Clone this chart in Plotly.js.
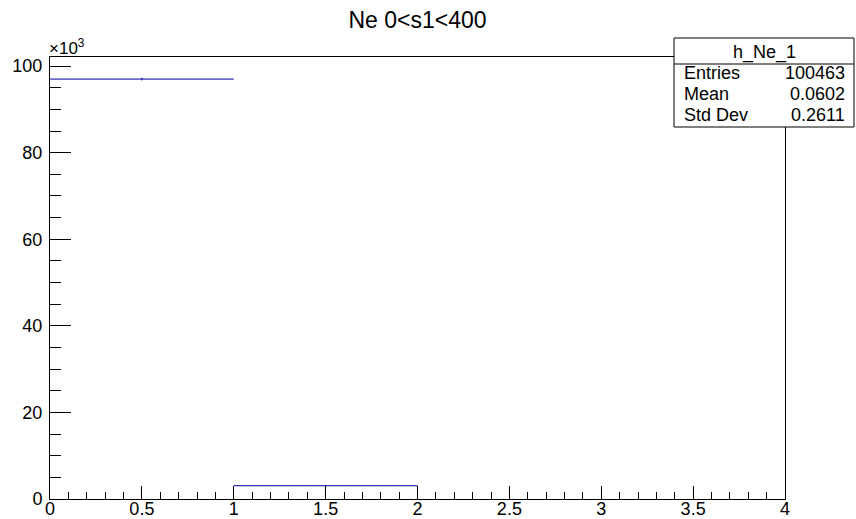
<!DOCTYPE html>
<html>
<head>
<meta charset="utf-8">
<script src="https://cdn.plot.ly/plotly-3.0.1.min.js"></script>
<style>html,body{margin:0;padding:0;background:#fff;}#chart{width:856px;height:519px;}</style>
</head>
<body>
<div id="chart"></div>
<script>
// Histogram h_Ne_1: bin edges and counts
const binEdges = [0, 1, 2, 3, 4];
const binCounts = [97000, 3070, 0, 0];
const yTickValues = [0, 20000, 40000, 60000, 80000, 100000];
const yTickLabels = ["0", "20", "40", "60", "80", "100"];
const xTickValues = [0, 0.5, 1, 1.5, 2, 2.5, 3, 3.5, 4];
const xTickLabels = ["0", "0.5", "1", "1.5", "2", "2.5", "3", "3.5", "4"];
const statsLabels = ["Entries", "Mean", "Std Dev"];
const statsValues = ["100463", "0.0602", "0.2611"];
const histName = "h_Ne_1";
const titleText = "Ne 0<s1<400";

const lineColor = "#000099";
const font = "Liberation Sans, Arial, Helvetica, sans-serif";

// ROOT "E" style: empty bins are not drawn
const idx = binCounts.map((c, i) => i).filter(i => binCounts[i] > 0);
const centers = idx.map(i => (binEdges[i] + binEdges[i + 1]) / 2);
const halfW = idx.map(i => (binEdges[i + 1] - binEdges[i]) / 2);
const vals = idx.map(i => binCounts[i]);
const errs = vals.map(c => Math.sqrt(c));

const trace = {
  type: "scatter",
  mode: "markers",
  x: centers,
  y: vals,
  marker: {size: 0.1, color: lineColor},
  error_x: {type: "data", array: halfW, symmetric: true, width: 0, thickness: 1, color: lineColor},
  error_y: {type: "data", array: errs, symmetric: true, width: 0, thickness: 1, color: lineColor},
  hoverinfo: "x+y",
  showlegend: false,
  cliponaxis: false
};

const L = 50, R = 785, T = 57, B = 499, W = 856, H = 519;
const plotW = R - L, plotH = B - T;
const fx = x => (x - L) / plotW;
const fy = y => (B - y) / plotH;

// stats box geometry
const boxL = 674, boxR = 854, boxT = 38, boxB = 127, headB = 64;
const rowY = [73, 94, 115];

const statShapes = [
  {type: "rect", xref: "paper", yref: "paper", x0: fx(boxL), x1: fx(boxR), y0: fy(boxB), y1: fy(boxT),
   fillcolor: "#ffffff", line: {color: "#000000", width: 1}, layer: "above"},
  {type: "line", xref: "paper", yref: "paper", x0: fx(boxL), x1: fx(boxR), y0: fy(headB), y1: fy(headB),
   line: {color: "#000000", width: 1}, layer: "above"}
];

const annotations = [
  {xref: "paper", yref: "paper", x: fx((boxL + boxR) / 2), y: fy((boxT + headB) / 2 + 1), text: histName,
   showarrow: false, xanchor: "center", yanchor: "middle", font: {family: font, size: 18, color: "#000"}},
  {xref: "paper", yref: "paper", x: 0, y: 1, xshift: -3, yshift: -3, text: "\u00d710<sup>3</sup>",
   showarrow: false, xanchor: "left", yanchor: "bottom", font: {family: font, size: 17, color: "#000"}}
];
statsLabels.forEach((lab, i) => {
  annotations.push({xref: "paper", yref: "paper", x: fx(boxL + 8), y: fy(rowY[i]), text: lab,
    showarrow: false, xanchor: "left", yanchor: "middle", font: {family: font, size: 18, color: "#000"}});
  annotations.push({xref: "paper", yref: "paper", x: fx(boxR - 7), y: fy(rowY[i]), text: statsValues[i],
    showarrow: false, xanchor: "right", yanchor: "middle", font: {family: font, size: 18, color: "#000"}});
});

const layout = {
  width: W, height: H,
  margin: {l: L, r: W - R, t: T, b: H - B, pad: 0},
  paper_bgcolor: "#ffffff",
  plot_bgcolor: "#ffffff",
  title: {text: titleText, x: 417.5 / W, xanchor: "center", y: 1 - 20 / H, yanchor: "middle",
          font: {family: font, size: 23, color: "#000"}},
  xaxis: {
    range: [binEdges[0], binEdges[binEdges.length - 1]],
    tickvals: xTickValues, ticktext: xTickLabels,
    ticks: "inside", ticklen: 13, tickwidth: 1, tickcolor: "#000",
    minor: {dtick: 0.1, ticks: "inside", ticklen: 7, tickwidth: 1, tickcolor: "#000", showgrid: false},
    showline: true, linecolor: "#000", linewidth: 1, mirror: true,
    showgrid: false, zeroline: false,
    tickfont: {family: font, size: 18, color: "#000"},
    ticklabelstandoff: -7,
    automargin: false
  },
  yaxis: {
    range: [0, 102100],
    tickvals: yTickValues, ticktext: yTickLabels,
    ticks: "inside", ticklen: 21, tickwidth: 1, tickcolor: "#000",
    minor: {dtick: 5000, ticks: "inside", ticklen: 11, tickwidth: 1, tickcolor: "#000", showgrid: false},
    showline: true, linecolor: "#000", linewidth: 1, mirror: true,
    showgrid: false, zeroline: false,
    tickfont: {family: font, size: 18, color: "#000"},
    ticklabelstandoff: 3,
    automargin: false
  },
  shapes: statShapes,
  annotations: annotations
};

Plotly.newPlot("chart", [trace], layout, {displayModeBar: false, staticPlot: true});
</script>
</body>
</html>
